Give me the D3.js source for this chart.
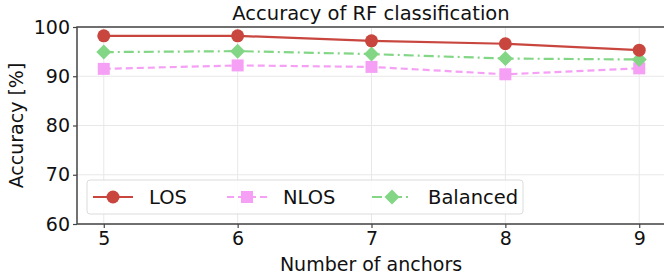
<!DOCTYPE html>
<html>
<meta charset="UTF-8">
<head>
  <script src="https://cdn.jsdelivr.net/npm/d3@7"></script>
  <style>
    body { margin: 0; background: white; }
    text { font-family: "DejaVu Sans", sans-serif; fill: #111; }
  </style>
</head>
<body>
  <svg id="chart" width="664" height="278"></svg>
  <script>
    const anchors = [5, 6, 7, 8, 9]
    const losAcc = [98.2, 98.2, 97.2, 96.6, 95.3]
    const nlosAcc = [91.5, 92.2, 91.9, 90.4, 91.6]
    const balancedAcc = [94.9, 95.1, 94.5, 93.6, 93.4]
    const yTicks = [60, 70, 80, 90, 100]

    const series = [
      { name: "LOS", values: losAcc, color: "#c8463e", dash: null, marker: "circle" },
      { name: "NLOS", values: nlosAcc, color: "#f5a0f5", dash: "7,4", marker: "square" },
      { name: "Balanced", values: balancedAcc, color: "#82d686", dash: "10,4,2,4", marker: "diamond" }
    ]

    const plotL = 77, plotR = 666, plotT = 27, plotB = 224

    const x = d3.scaleLinear().domain([4.8, 9.2]).range([plotL, plotR])
    const y = d3.scaleLinear().domain([60, 100]).range([plotB, plotT])

    const svg = d3.select("#chart")

    // grid
    svg.append("g")
      .selectAll("line")
      .data(anchors)
      .enter()
      .append("line")
      .attr("x1", d => x(d)).attr("x2", d => x(d))
      .attr("y1", plotT).attr("y2", plotB)
      .style("stroke", "#e8e8e8").style("stroke-width", 1)

    svg.append("g")
      .selectAll("line")
      .data(yTicks)
      .enter()
      .append("line")
      .attr("x1", plotL).attr("x2", plotR)
      .attr("y1", d => y(d)).attr("y2", d => y(d))
      .style("stroke", "#e8e8e8").style("stroke-width", 1)

    // axes
    const xAxis = svg.append("g")
      .attr("transform", `translate(0,${plotB})`)
      .call(d3.axisBottom(x).tickValues(anchors).tickFormat(d3.format("d")).tickSize(4).tickPadding(4))
    const yAxis = svg.append("g")
      .attr("transform", `translate(${plotL},0)`)
      .call(d3.axisLeft(y).tickValues(yTicks).tickFormat(d3.format("d")).tickSize(4).tickPadding(3))

    ;[xAxis, yAxis].forEach(a => {
      a.select(".domain").remove()
      a.selectAll("line").style("stroke", "#444").style("stroke-width", 1.2)
      a.selectAll("text").style("font-size", "19px").style("fill", "#111")
        .style("font-family", "DejaVu Sans, sans-serif")
    })

    // frame
    svg.append("rect")
      .attr("x", plotL).attr("y", plotT)
      .attr("width", plotR - plotL).attr("height", plotB - plotT)
      .style("fill", "none").style("stroke", "#444").style("stroke-width", 1.5)

    function drawMarker(g, type, color) {
      if (type === "circle") {
        g.append("circle").attr("r", 6.5).style("fill", color)
      } else if (type === "square") {
        g.append("rect").attr("x", -6).attr("y", -6).attr("width", 12).attr("height", 12).style("fill", color)
      } else {
        g.append("path").attr("d", "M0,-7.5L7.5,0L0,7.5L-7.5,0Z").style("fill", color)
      }
    }

    const line = d3.line()
      .x((d, i) => x(anchors[i]))
      .y(d => y(d))

    // draw in z order: NLOS, Balanced, LOS
    ;[1, 2, 0].forEach(k => {
      const s = series[k]
      svg.append("path")
        .datum(s.values)
        .attr("d", line)
        .style("fill", "none")
        .style("stroke", s.color)
        .style("stroke-width", 2.2)
        .style("stroke-dasharray", s.dash)
      s.values.forEach((v, i) => {
        const g = svg.append("g").attr("transform", `translate(${x(anchors[i])},${y(v)})`)
        drawMarker(g, s.marker, s.color)
      })
    })

    // legend
    const legend = svg.append("g")
    legend.append("rect")
      .attr("x", 87).attr("y", 180).attr("width", 436).attr("height", 34).attr("rx", 3)
      .style("fill", "white").style("fill-opacity", 0.85)
      .style("stroke", "#dcdcdc").style("stroke-width", 1)
    const legendX = [93, 227, 372]
    series.forEach((s, i) => {
      const lx = legendX[i], ly = 197
      legend.append("line")
        .attr("x1", lx).attr("x2", lx + 40).attr("y1", ly).attr("y2", ly)
        .style("stroke", s.color).style("stroke-width", 2.2)
        .style("stroke-dasharray", s.dash)
      const g = legend.append("g").attr("transform", `translate(${lx + 20},${ly})`)
      drawMarker(g, s.marker, s.color)
      legend.append("text")
        .attr("x", lx + 56).attr("y", ly + 7)
        .style("font-size", "19.5px")
        .text(s.name)
    })

    // title & labels
    svg.append("text")
      .attr("x", 371).attr("y", 20)
      .attr("text-anchor", "middle")
      .style("font-size", "19.5px")
      .text("Accuracy of RF classification")

    svg.append("text")
      .attr("x", 371).attr("y", 271)
      .attr("text-anchor", "middle")
      .style("font-size", "19px")
      .text("Number of anchors")

    svg.append("text")
      .attr("transform", `translate(23,${(plotT + plotB) / 2}) rotate(-90)`)
      .attr("text-anchor", "middle")
      .style("font-size", "19px")
      .text("Accuracy [%]")
  </script>
</body>
</html>
